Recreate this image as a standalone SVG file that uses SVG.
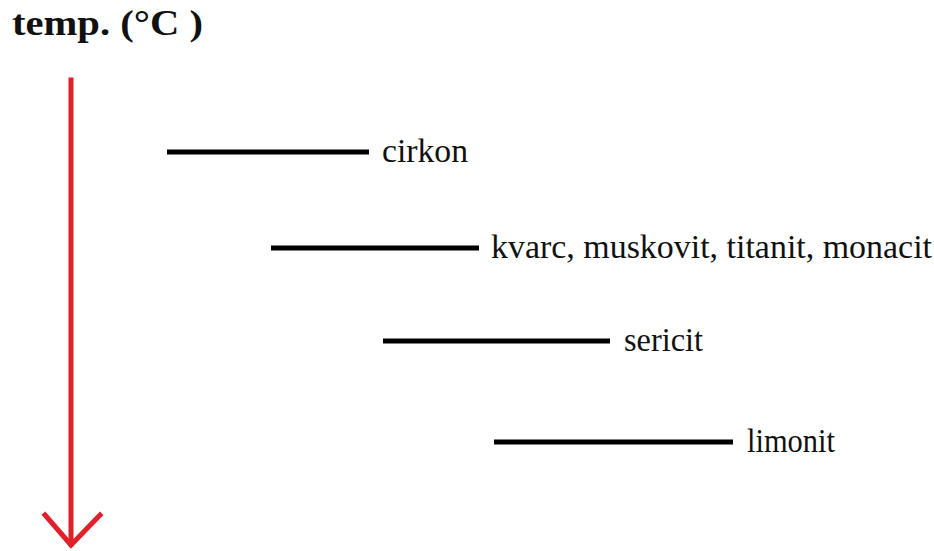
<svg xmlns="http://www.w3.org/2000/svg" width="934" height="551" viewBox="0 0 934 551">
<style>
.bar{stroke:#000;stroke-width:5;}
.red{stroke:#e0202a;stroke-width:5;fill:none;stroke-linecap:square;}
.lbl{font-family:"Liberation Serif","Times New Roman",serif;font-size:34px;fill:#111;}
.ttl{font-family:"Liberation Serif","Times New Roman",serif;font-size:36px;font-weight:bold;fill:#111;}
</style>
<rect width="934" height="551" fill="#fff"/>
<g id="title"><text class="ttl" x="12" y="35" textLength="191" lengthAdjust="spacingAndGlyphs">temp. (°C )</text></g>
<g id="connectors">
<line class="red" x1="71" y1="80" x2="71" y2="544"/>
<polyline class="red" points="45,515 71,545 100,515"/>
</g>
<g id="cirkon"><line class="bar" x1="167" y1="152" x2="369" y2="152"/><text class="lbl" x="382" y="162" textLength="86" lengthAdjust="spacingAndGlyphs">cirkon</text></g>
<g id="kvarc"><line class="bar" x1="271" y1="248" x2="479" y2="248"/><text class="lbl" x="491" y="258" textLength="441" lengthAdjust="spacingAndGlyphs">kvarc, muskovit, titanit, monacit</text></g>
<g id="sericit"><line class="bar" x1="383" y1="341" x2="610" y2="341"/><text class="lbl" x="624" y="351" textLength="79" lengthAdjust="spacingAndGlyphs">sericit</text></g>
<g id="limonit"><line class="bar" x1="494" y1="442" x2="733" y2="442"/><text class="lbl" x="747" y="452" textLength="88" lengthAdjust="spacingAndGlyphs">limonit</text></g>
</svg>
